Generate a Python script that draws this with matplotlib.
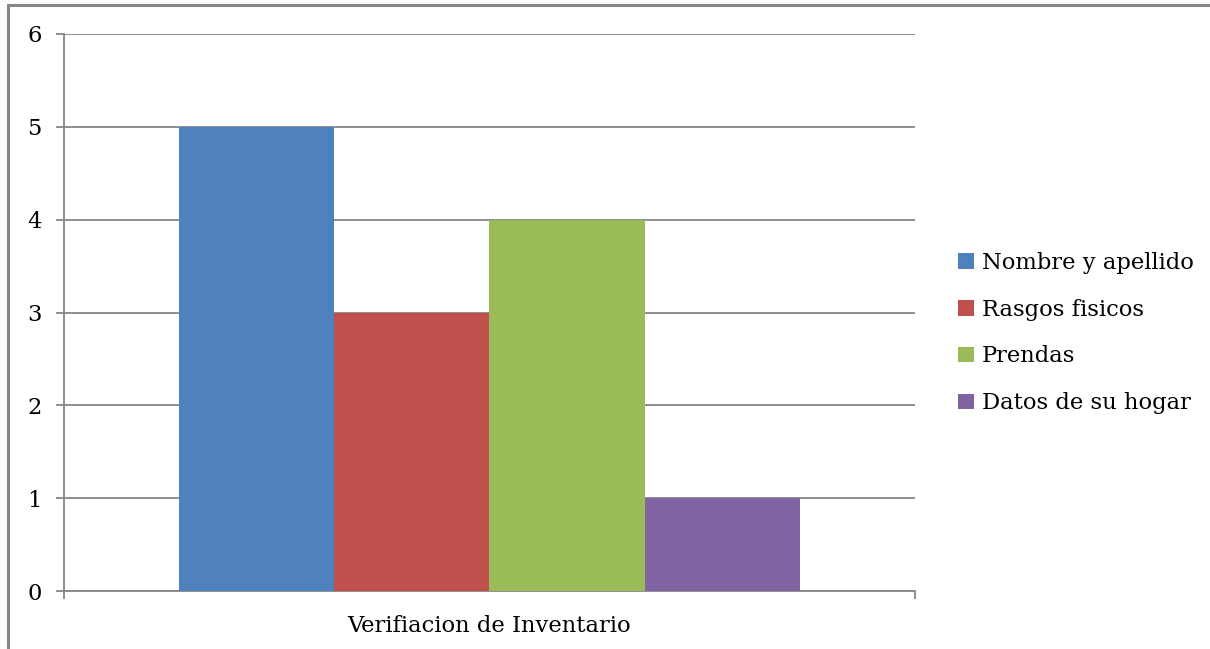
import numpy as np
import matplotlib.pyplot as plt
from matplotlib.patches import Rectangle

plt.rcParams['font.family'] = ['DejaVu Serif']

category = 'Verifiacion de Inventario'
series = ['Nombre y apellido', 'Rasgos fisicos', 'Prendas', 'Datos de su hogar']
values = [5, 3, 4, 1]
colors = ['#4F81BD', '#C0504D', '#9BBB59', '#8064A2']

grid_c = '#868686'
fs = 16.3

fig = plt.figure(figsize=(12.10, 6.49), dpi=100)
ax = fig.add_axes([64 / 1210, 1 - 591 / 649, (915 - 64) / 1210, (591 - 34) / 649])

# outer chart frame (runs off the right and bottom edges)
fig.patches.append(Rectangle((8 / 1210, -0.1), 1.2, 1 - 5 / 649 + 0.1,
                             transform=fig.transFigure, fill=False,
                             edgecolor=grid_c, linewidth=2.2))

w = 155 / 851
n = len(values)
bars = []
for i, (s, v, c) in enumerate(zip(series, values, colors)):
    b = ax.bar((i - (n - 1) / 2) * w, v, width=w, color=c, label=s, zorder=3)
    bars.append(b)

ax.set_xlim(-0.5, 0.5)
ax.set_ylim(0, 6)
ax.set_yticks(range(0, 7))
ax.yaxis.grid(True, color=grid_c, linewidth=1.3, zorder=0)
ax.set_axisbelow(True)

ax.set_xticks([0])
ax.set_xticklabels([category])
ax.set_xticks([-0.5, 0.5], minor=True)
ax.tick_params(axis='x', which='major', length=0, pad=17, labelsize=fs)
ax.tick_params(axis='x', which='minor', length=6, width=1.3, color=grid_c, direction='out')
ax.tick_params(axis='y', length=6, width=1.3, color=grid_c, pad=10, labelsize=fs)

for side in ['top', 'right']:
    ax.spines[side].set_visible(False)
for side in ['left', 'bottom']:
    ax.spines[side].set_color(grid_c)
    ax.spines[side].set_linewidth(1.3)

fig.legend(handles=[b[0] for b in bars], labels=series,
           loc='center left', bbox_to_anchor=(958 / 1210, 1 - 333 / 649),
           frameon=False, fontsize=fs, handlelength=0.7, handleheight=0.7,
           handletextpad=0.35, labelspacing=1.1, borderpad=0, borderaxespad=0)

fig.savefig('out.png', dpi=100)
